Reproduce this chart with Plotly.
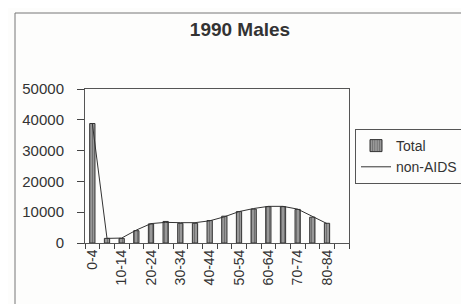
import plotly.graph_objects as go

categories = ["0-4", "5-9", "10-14", "15-19", "20-24", "25-29", "30-34", "35-39",
              "40-44", "45-49", "50-54", "55-59", "60-64", "65-69", "70-74",
              "75-79", "80-84", "85-89"]
total = [38800, 1500, 1500, 4000, 6200, 7000, 6400, 6400, 7300, 8700,
         10200, 11000, 11800, 11800, 10900, 8400, 6400, None]
non_aids = [38800, 1500, 1600, 4200, 6300, 6700, 6600, 6600, 7200, 8500,
            10200, 11200, 11900, 11900, 11000, 8600, 6300, None]
tick_labels = [c if i % 2 == 0 else "" for i, c in enumerate(categories)]
y_ticks = [0, 10000, 20000, 30000, 40000, 50000]

W, H = 469, 304
L, R, T, B = 77, 128, 81, 69
pw, ph = W - L - R, H - T - B

def px_x(x):
    return (x - L) / pw

def px_y(y):
    return (H - B - y) / ph

font = "Liberation Sans, Arial, sans-serif"
txt = "#333333"

fig = go.Figure()
fig.add_trace(go.Bar(
    x=categories, y=total, name="Total", width=0.36,
    marker=dict(color="#8a8a8a", line=dict(color="#333333", width=1),
                pattern=dict(shape="|", fgcolor="#3f3f3f", bgcolor="#a0a0a0",
                             size=3, solidity=0.45)),
))
fig.add_trace(go.Scatter(
    x=categories, y=non_aids, name="non-AIDS", mode="lines",
    line=dict(color="#333333", width=1),
))

fig.update_layout(
    width=W, height=H,
    margin=dict(l=L, r=R, t=T, b=B, autoexpand=False),
    paper_bgcolor="#fdfdfc", plot_bgcolor="#fdfdfc",
    font=dict(family=font, size=15, color=txt),
    title=dict(text="<b>1990 Males</b>", x=232 / W, xanchor="center",
               y=1 - 21 / H, yanchor="middle", xref="container", yref="container",
               font=dict(size=19, color=txt)),
    showlegend=True,
    legend=dict(x=px_x(347), y=px_y(121), xanchor="left", yanchor="top",
                bordercolor="#555555", borderwidth=1, bgcolor="#fdfdfc",
                font=dict(size=14, color=txt), tracegroupgap=0),
    bargap=0.6,
    xaxis=dict(type="category", categoryorder="array", categoryarray=categories,
               tickmode="array", tickvals=categories, ticktext=tick_labels,
               tickangle=-90, tickson="boundaries", ticks="outside", ticklen=5,
               tickcolor="#444444", showline=True, linecolor="#555555",
               linewidth=1, mirror=True, showgrid=False, range=[-0.5, 17.5],
               tickfont=dict(size=14, color=txt)),
    yaxis=dict(range=[0, 50000], tickvals=y_ticks, ticks="outside", ticklen=7,
               ticklabelstandoff=10,
               tickcolor="#444444", showline=True, linecolor="#555555",
               linewidth=1, mirror=True, showgrid=False, zeroline=False,
               tickfont=dict(size=15, color=txt), tickformat="d"),
    shapes=[dict(type="rect", xref="paper", yref="paper",
                 x0=px_x(7), x1=px_x(472), y0=px_y(307), y1=px_y(5),
                 line=dict(color="#777777", width=1), layer="below")],
)

fig.write_html("out.html")
